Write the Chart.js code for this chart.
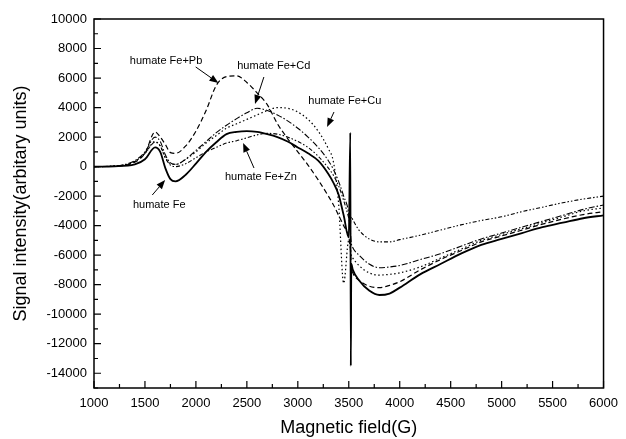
<!DOCTYPE html>
<html>
<head>
<meta charset="utf-8">
<script src="https://cdn.jsdelivr.net/npm/chart.js@4/dist/chart.umd.min.js"></script>
<style>
    html, body { margin: 0; padding: 0; background: #fff; }
    #wrap { width: 626px; height: 439px; }
</style>
</head>
<body>
<div id="wrap"><canvas id="epr"></canvas></div>
<script>
// magnetic field (G), shared by all five spectra
const fields = [1000, 1200, 1400, 1500, 1600, 1650, 1700, 1750, 1800, 1900,
    2000, 2100, 2200, 2300, 2400, 2500, 2600, 2700, 2800, 2900,
    3000, 3100, 3200, 3300, 3350, 3400, 3450, 3500, 3515, 3520,
    3525, 3540, 3600, 3700, 3800, 3900, 4000, 4200, 4400, 4600,
    4800, 5000, 5200, 5400, 5600, 5800, 6000];

const humateFe = [0, 20, 150, 500, 1300, 1000, -100, -850, -1000, -550,
    200, 1000, 1650, 2200, 2350, 2400, 2350, 2200, 2000, 1700,
    1300, 900, 400, -500, -1100, -1900, -3300, -4800, 2300, -13500,
    -6600, -7000, -7700, -8400, -8700, -8600, -8200, -7300, -6600, -5900,
    -5300, -4900, -4500, -4100, -3800, -3500, -3300];

const humatePb = [0, 30, 300, 900, 2350, 2000, 1500, 950, 900, 1400,
    2400, 3800, 5500, 6100, 6150, 5700, 5000, 4200, 2900, 1900,
    1000, 100, -900, -2000, -2600, -3300, -4000, -4800, -5500, -6200,
    -6800, -7200, -7700, -8100, -8200, -8050, -7800, -7000, -6300, -5700,
    -5100, -4700, -4300, -3900, -3550, -3250, -3050];

const humateCd = [0, 40, 400, 1000, 2000, 1700, 800, 250, 150, 500,
    1100, 1700, 2300, 2800, 3250, 3650, 3950, 3800, 3500, 3100,
    2600, 2000, 1300, 400, -200, -1000, -2000, -3200, -4300, -4800,
    -5200, -5500, -6000, -6600, -6850, -6800, -6700, -6300, -5900, -5400,
    -4900, -4500, -4100, -3700, -3300, -2900, -2600];

const humateCu = [0, 30, 350, 900, 1700, 1400, 600, 200, 150, 500,
    1000, 1600, 2100, 2600, 2900, 3200, 3500, 3800, 4000, 3950,
    3700, 3200, 2400, 1200, 300, -2500, -7900, -5000, -5500, -5800,
    -6000, -6200, -6700, -7200, -7350, -7300, -7200, -6800, -6200, -5600,
    -5000, -4600, -4200, -3800, -3400, -3000, -2800];

const humateZn = [0, 40, 350, 900, 1650, 1400, 600, 100, 0, 200,
    600, 1000, 1300, 1600, 1750, 1950, 2150, 2250, 2200, 2000,
    1700, 1300, 700, -100, -600, -1300, -2300, -3500, -4000, -3600,
    -3400, -3600, -4300, -4900, -5100, -5100, -4950, -4650, -4300, -3950,
    -3650, -3400, -3050, -2750, -2450, -2200, -2000];

const xTicks = [1000, 1500, 2000, 2500, 3000, 3500, 4000, 4500, 5000, 5500, 6000];
const yTicks = [-14000, -12000, -10000, -8000, -6000, -4000, -2000, 0, 2000, 4000, 6000, 8000, 10000];

// label text, label centre, arrow tail, arrow head (data units)
const notes = [
    { text: 'humate Fe+Pb', x: 1707, y: 7155, tx: 1998, ty: 6750, hx: 2221, hy: 5664 },
    { text: 'humate Fe+Cd', x: 2764, y: 6815, tx: 2667, ty: 6070, hx: 2580, hy: 4240 },
    { text: 'humate Fe+Cu', x: 3461, y: 4445, tx: 3355, ty: 3700, hx: 3287, hy: 2680 },
    { text: 'humate Fe+Zn', x: 2638, y: -700, tx: 2570, ty: -95, hx: 2463, hy: 1600 },
    { text: 'humate Fe', x: 1640, y: -2600, tx: 1572, ty: -1925, hx: 1698, hy: -910 }
];

const FONT = 'Liberation Sans, Arial, sans-serif';

function points(values) {
    return fields.map((f, i) => ({ x: f, y: values[i] }));
}

function series(label, values, dash, width) {
    return {
        label,
        data: points(values),
        borderColor: '#000',
        borderWidth: width,
        borderDash: dash,
        pointRadius: 0,
        fill: false,
        cubicInterpolationMode: 'monotone'
    };
}

function arrow(ctx, x1, y1, x2, y2) {
    const ang = Math.atan2(y2 - y1, x2 - x1);
    const len = 9, half = 3.5;
    const bx = x2 - len * Math.cos(ang), by = y2 - len * Math.sin(ang);
    ctx.beginPath();
    ctx.moveTo(x1, y1);
    ctx.lineTo(bx, by);
    ctx.stroke();
    ctx.beginPath();
    ctx.moveTo(x2, y2);
    ctx.lineTo(bx + half * Math.sin(ang), by - half * Math.cos(ang));
    ctx.lineTo(bx - half * Math.sin(ang), by + half * Math.cos(ang));
    ctx.closePath();
    ctx.fill();
}

const framePlugin = {
    id: 'frame',
    afterDraw(chart) {
        const { ctx, chartArea: a, scales: { x, y } } = chart;
        ctx.save();
        ctx.strokeStyle = '#000';
        ctx.fillStyle = '#000';
        ctx.lineWidth = 1.5;
        ctx.strokeRect(a.left, a.top, a.right - a.left, a.bottom - a.top);

        // inward ticks, major + minor
        ctx.lineWidth = 1.2;
        ctx.beginPath();
        for (let v = 1000; v <= 6000; v += 250) {
            const px = x.getPixelForValue(v);
            const len = v % 500 === 0 ? 7 : 4;
            ctx.moveTo(px, a.bottom);
            ctx.lineTo(px, a.bottom - len);
        }
        for (let v = -15000; v <= 10000; v += 1000) {
            const py = y.getPixelForValue(v);
            const len = v % 2000 === 0 ? 7 : 4;
            ctx.moveTo(a.left, py);
            ctx.lineTo(a.left + len, py);
        }
        ctx.stroke();

        ctx.font = '11px ' + FONT;
        ctx.textAlign = 'center';
        ctx.textBaseline = 'middle';
        ctx.lineWidth = 1;
        notes.forEach((n) => {
            ctx.fillText(n.text, x.getPixelForValue(n.x), y.getPixelForValue(n.y));
            arrow(ctx, x.getPixelForValue(n.tx), y.getPixelForValue(n.ty),
                x.getPixelForValue(n.hx), y.getPixelForValue(n.hy));
        });
        ctx.restore();
    }
};

new Chart(document.getElementById('epr'), {
    type: 'line',
    data: {
        datasets: [
            series('humate Fe+Zn', humateZn, [4, 2, 1.5, 2, 1.5, 2], 1.1),
            series('humate Fe+Cu', humateCu, [1.5, 2.5], 1.2),
            series('humate Fe+Cd', humateCd, [6, 2, 1.5, 2], 1.1),
            series('humate Fe+Pb', humatePb, [5, 3], 1.2),
            series('humate Fe', humateFe, [], 1.8)
        ]
    },
    options: {
        responsive: true,
        maintainAspectRatio: false,
        animation: false,
        layout: { padding: { top: 19, right: 16, left: 0, bottom: 0 } },
        plugins: { legend: { display: false }, tooltip: { enabled: false } },
        scales: {
            x: {
                type: 'linear',
                min: 1000,
                max: 6000,
                afterBuildTicks: (s) => { s.ticks = xTicks.map((v) => ({ value: v })); },
                afterFit: (s) => { s.height = 51; },
                grid: { display: false, drawTicks: false },
                border: { display: false },
                ticks: {
                    color: '#000', padding: 8, maxRotation: 0, autoSkip: false,
                    font: { family: FONT, size: 13 },
                    callback: (v) => String(v)
                },
                title: {
                    display: true, text: 'Magnetic field(G)', color: '#000',
                    font: { family: FONT, size: 18 }, padding: { top: 0, bottom: 0 }
                }
            },
            y: {
                type: 'linear',
                min: -15000,
                max: 10000,
                afterBuildTicks: (s) => { s.ticks = yTicks.map((v) => ({ value: v })); },
                afterFit: (s) => { s.width = 94; },
                grid: { display: false, drawTicks: false },
                border: { display: false },
                ticks: {
                    color: '#000', padding: 7, autoSkip: false,
                    font: { family: FONT, size: 13 },
                    callback: (v) => String(v)
                },
                title: {
                    display: true, text: 'Signal intensity(arbitary units)', color: '#000',
                    font: { family: FONT, size: 18 }, padding: { top: 10, bottom: 0 }
                }
            }
        }
    },
    plugins: [framePlugin]
});
</script>
</body>
</html>
